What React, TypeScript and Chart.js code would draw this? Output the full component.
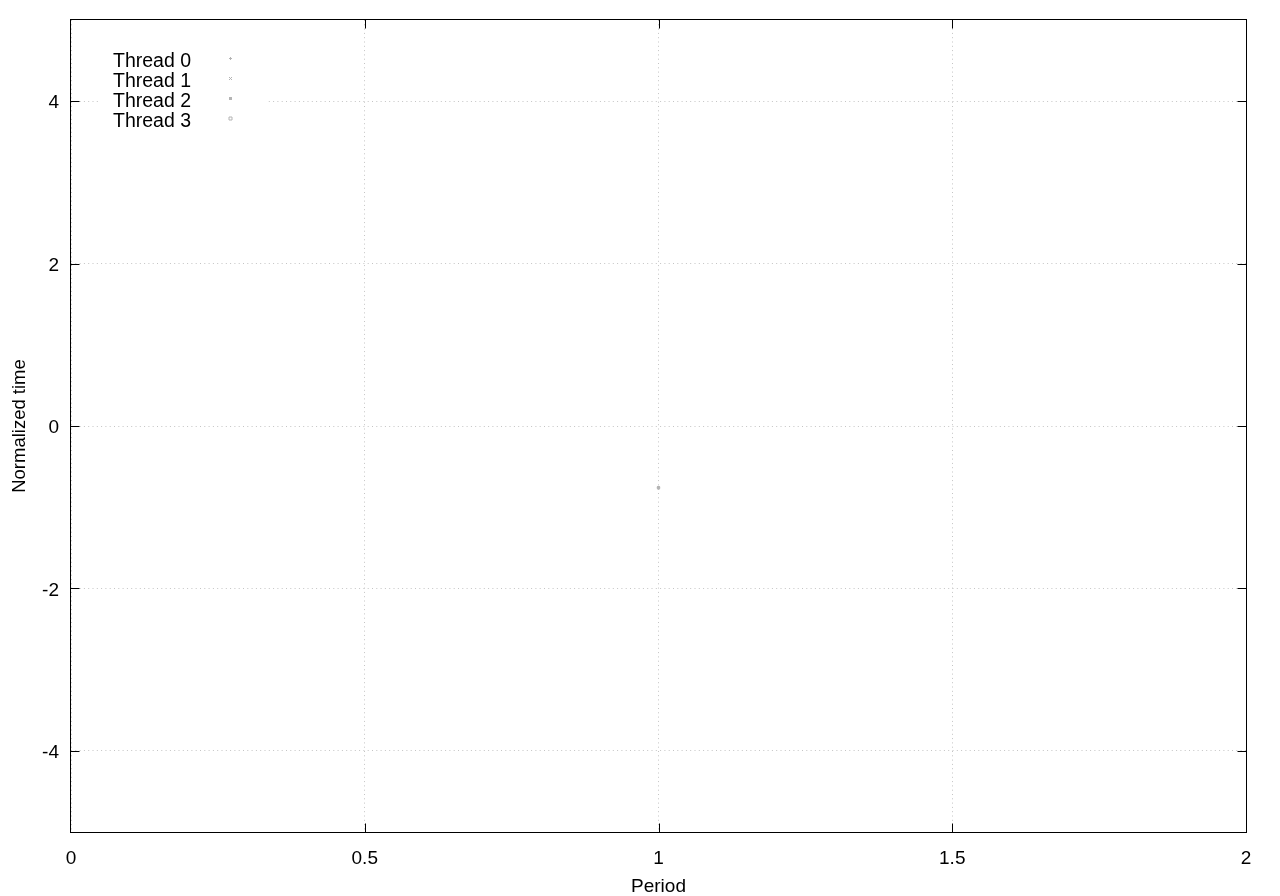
import React, { useEffect, useRef } from "react";
import { Chart, registerables } from "chart.js";

Chart.register(...registerables);

const threadNames = ["Thread 0", "Thread 1", "Thread 2", "Thread 3"];
const threadPointStyles = ["cross", "crossRot", "star", "rect"];
const periods = [1];
const thread0Times = [-0.76];
const thread1Times = [-0.76];
const thread2Times = [-0.76];
const thread3Times = [-0.76];
const xTickValues = [0, 0.5, 1, 1.5, 2];
const xTickLabels = ["0", "0.5", "1", "1.5", "2"];
const yTickValues = [-4, -2, 0, 2, 4];
const yTickLabels = ["-4", "-2", "0", "2", "4"];

const FONT = "'Liberation Sans', Arial, Helvetica, sans-serif";
const POINT_COLOR = "#b4b4b4";

const framePlugin = {
  id: "gnuFrame",
  afterDraw(chart: any) {
    const ctx = chart.ctx;
    const { left, right, top, bottom } = chart.chartArea;
    const xs = chart.scales.x;
    const ys = chart.scales.y;

    // legend box (opaque, hides grid)
    ctx.save();
    ctx.fillStyle = "#ffffff";
    ctx.fillRect(left + 30, 48, 166, 84);
    ctx.fillStyle = "#000";
    ctx.font = "19.5px " + FONT;
    ctx.textAlign = "left";
    ctx.textBaseline = "middle";
    const legendSeries = [thread0Times, thread1Times, thread2Times, thread3Times];
    threadNames.forEach((name, i) => {
      ctx.fillText(name, 113, 62 + i * 20);
      const mx = 230.5;
      const my = 58.5 + i * 20;
      ctx.strokeStyle = POINT_COLOR;
      ctx.lineWidth = 1;
      ctx.beginPath();
      const s = 1.5;
      const style = threadPointStyles[i];
      if (style === "cross" || style === "star") {
        ctx.moveTo(mx - s, my);
        ctx.lineTo(mx + s, my);
        ctx.moveTo(mx, my - s);
        ctx.lineTo(mx, my + s);
      }
      if (style === "crossRot" || style === "star") {
        ctx.moveTo(mx - s, my - s);
        ctx.lineTo(mx + s, my + s);
        ctx.moveTo(mx - s, my + s);
        ctx.lineTo(mx + s, my - s);
      }
      if (style === "rect") {
        ctx.rect(mx - s, my - s, 2 * s, 2 * s);
      }
      if (legendSeries[i]) ctx.stroke();
    });
    ctx.restore();

    // border
    ctx.save();
    ctx.strokeStyle = "#000";
    ctx.lineWidth = 1;
    const L = Math.round(left) - 0.5;
    const R = Math.round(right) + 0.5;
    const T = Math.round(top) - 0.5;
    const B = Math.round(bottom) + 0.5;
    ctx.strokeRect(L, T, R - L, B - T);

    // inward tick marks on all sides (interior ticks only)
    const tl = 9;
    ctx.beginPath();
    xTickValues.forEach((v, i) => {
      if (i === 0 || i === xTickValues.length - 1) return;
      const px = Math.round(xs.getPixelForValue(v)) + 0.5;
      ctx.moveTo(px, B);
      ctx.lineTo(px, B - tl);
      ctx.moveTo(px, T);
      ctx.lineTo(px, T + tl);
    });
    yTickValues.forEach((v) => {
      const py = Math.round(ys.getPixelForValue(v)) + 0.5;
      ctx.moveTo(L, py);
      ctx.lineTo(L + tl, py);
      ctx.moveTo(R, py);
      ctx.lineTo(R - tl, py);
    });
    ctx.stroke();
    ctx.restore();
  },
};

export default function App() {
  const canvasRef = useRef<HTMLCanvasElement | null>(null);

  useEffect(() => {
    if (!canvasRef.current) return;
    Chart.defaults.font.family = FONT;
    Chart.defaults.color = "#000";

    const mk = (times: number[], i: number) => ({
      label: threadNames[i],
      data: periods.map((p, k) => ({ x: p, y: times[k] })),
      pointStyle: threadPointStyles[i] as any,
      pointRadius: 1.6,
      pointBorderWidth: 1,
      borderColor: POINT_COLOR,
      backgroundColor: i === 3 ? "rgba(0,0,0,0)" : POINT_COLOR,
      showLine: false,
    });

    const chart = new Chart(canvasRef.current, {
      type: "scatter",
      data: {
        datasets: [
          mk(thread0Times, 0),
          mk(thread1Times, 1),
          mk(thread2Times, 2),
          mk(thread3Times, 3),
        ],
      },
      options: {
        animation: false,
        responsive: true,
        maintainAspectRatio: false,
        layout: { padding: { top: 20, right: 34, left: 0, bottom: 0 } },
        plugins: {
          legend: { display: false },
          tooltip: { enabled: false },
        },
        scales: {
          x: {
            type: "linear",
            min: 0,
            max: 2,
            afterBuildTicks: (scale: any) => {
              scale.ticks = xTickValues.map((v) => ({ value: v }));
            },
            afterFit: (scale: any) => {
              scale.height = 64;
            },
            ticks: {
              padding: 15,
              font: { size: 19 },
              color: "#000",
              maxRotation: 0,
              callback: (value: any) => {
                const idx = xTickValues.indexOf(Number(value));
                return idx >= 0 ? xTickLabels[idx] : "";
              },
            },
            grid: { color: "#c4c4c4", lineWidth: 1, drawTicks: false },
            border: { display: false, dash: [1, 3.3] },
            title: {
              display: true,
              text: "Period",
              font: { size: 19, lineHeight: 1 },
              color: "#000",
              padding: { top: 0, bottom: 0 },
            },
          },
          y: {
            type: "linear",
            min: -5,
            max: 5,
            afterBuildTicks: (scale: any) => {
              scale.ticks = yTickValues.map((v) => ({ value: v }));
            },
            afterFit: (scale: any) => {
              scale.width = 71;
            },
            ticks: {
              padding: 12,
              labelOffset: 2,
              font: { size: 19, lineHeight: 0.5 },
              color: "#000",
              callback: (value: any) => {
                const idx = yTickValues.indexOf(Number(value));
                return idx >= 0 ? yTickLabels[idx] : "";
              },
            },
            grid: { color: "#c4c4c4", lineWidth: 1, drawTicks: false },
            border: { display: false, dash: [1, 3.3] },
            title: {
              display: true,
              text: "Normalized time",
              font: { size: 18.5 },
              color: "#000",
              padding: { top: 9, bottom: 0 },
            },
          },
        },
      },
      plugins: [framePlugin],
    });

    return () => chart.destroy();
  }, []);

  return (
    <div style={{ position: "absolute", left: 0, top: 0, width: 1280, height: 896, background: "#fff" }}>
      <canvas ref={canvasRef} />
    </div>
  );
}
